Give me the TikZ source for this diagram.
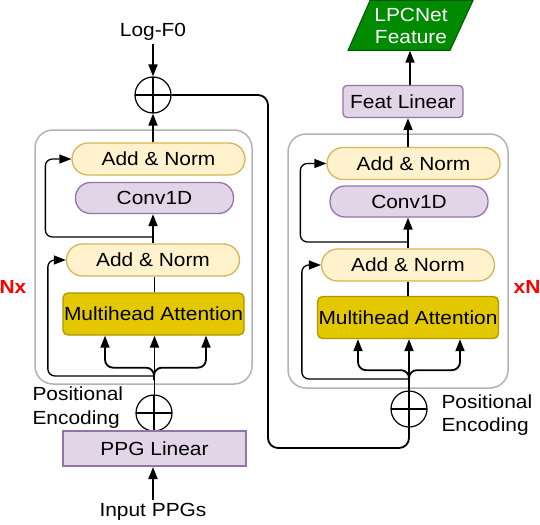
\documentclass[tikz,border=0pt]{standalone}
\usepackage{fontspec}
\setmainfont{Liberation Sans}[FakeStretch=1.1]
\usetikzlibrary{arrows.meta}

\definecolor{normfill}{HTML}{FFF2CC}
\definecolor{normline}{HTML}{D6B656}
\definecolor{convfill}{HTML}{E1D5E7}
\definecolor{convline}{HTML}{9673A6}
\definecolor{attnfill}{HTML}{E3C800}
\definecolor{attnline}{HTML}{B09500}
\definecolor{featfill}{HTML}{008A00}
\definecolor{featline}{HTML}{005700}
\definecolor{boxgray}{HTML}{B3B3B3}

\begin{document}
\begin{tikzpicture}[x=1pt,y=-1pt,font=\fontsize{19}{23}\selectfont]
        \tikzstyle{addnorm} = [draw=normline,fill=normfill,line width=1.3pt,rounded corners=16pt,minimum width=173pt,minimum height=32pt,inner sep=0pt]
        \tikzstyle{conv} = [draw=convline,fill=convfill,line width=1.3pt,rounded corners=15pt,minimum width=158pt,minimum height=31pt,inner sep=0pt]
        \tikzstyle{attn} = [draw=attnline,fill=attnfill,line width=1.3pt,rounded corners=5pt,minimum width=181pt,minimum height=42pt,inner sep=0pt]
        \tikzstyle{sumnode} = [draw,circle,line width=1.2pt,minimum size=36pt,inner sep=0pt,
            path picture={\draw[line width=1.2pt] (path picture bounding box.west) -- (path picture bounding box.east);
                          \draw[line width=2pt] (path picture bounding box.north) -- (path picture bounding box.south);}]
        \tikzstyle{group} = [draw=boxgray,line width=1.5pt,rounded corners=18pt]
        \tikzstyle{arr} = [line width=1.8pt,-{Triangle[length=12pt,width=9pt]}]
        \tikzstyle{skiparr} = [line width=1.3pt,rounded corners=7pt,-{Triangle[length=12pt,width=9pt]}]
        \tikzstyle{repeat} = [text=red,font=\fontsize{19}{23}\selectfont\bfseries]

        \useasboundingbox (0,0) rectangle (540,524);

        % the two stacks
        \draw[group] (35,130) rectangle (252,384);
        \draw[group] (288,134) rectangle (508,388);

        % left stack
        \node (logf) at (153,32) {Log-F0};
        \node[sumnode] (sumL) at (153,95) {};
        \node[addnorm] (normLa) at (158.5,159) {Add \& Norm};
        \node[conv] (convL) at (154.5,198) {Conv1D};
        \node[addnorm] (normLb) at (153,260) {Add \& Norm};
        \node[attn] (attnL) at (153.5,314) {Multihead Attention};
        \node[sumnode] (posL) at (154,413) {};
        \node[draw=convline,fill=convfill,line width=2pt,minimum width=183pt,minimum height=35pt] (ppg) at (154.5,448.5) {PPG Linear};
        \node (inppg) at (153,512) {Input PPGs};
        \node[align=left,anchor=west] (posLtxt) at (29,408) {Positional\\[1pt]Encoding};
        \node[repeat] (nx) at (13,287) {Nx};

        % right stack
        \filldraw[draw=featline,fill=featfill,line width=1pt] (348,50.5) -- (370,0.5) -- (473,0.5) -- (450,50.5) -- cycle;
        \node[text=white,align=center,minimum height=50pt,inner sep=0pt,
              font=\fontsize{19}{22}\selectfont] (lpc) at (411,25.5) {LPCNet\\Feature};
        \node[conv,rounded corners=4pt,minimum width=120pt,minimum height=32pt] (featlin) at (403,101.5) {Feat Linear};
        \node[addnorm] (normRa) at (413.5,163.5) {Add \& Norm};
        \node[conv] (convR) at (409,201.5) {Conv1D};
        \node[addnorm] (normRb) at (408,265) {Add \& Norm};
        \node[attn] (attnR) at (408,317.5) {Multihead Attention};
        \node[sumnode] (posR) at (409,409) {};
        \node[align=left,anchor=west] (posRtxt) at (438,415) {Positional\\Encoding};
        \node[repeat] (xn) at (527,287) {xN};

        % left connections
        \draw[arr] (logf) -- (sumL.north);
        \draw[arr] (normLa.north -| sumL) -- (sumL.south);
        \draw[arr] (normLb.north -| sumL) -- (convL.south -| sumL);
        \coordinate (jLa) at (153,237);
        \draw[skiparr] (jLa) -| ([xshift=-26pt]normLa.west) -- (normLa.west);
        \draw[line width=1.8pt] (attnL.north -| ppg) -- (normLb.south -| ppg);
        \draw[arr] (ppg.north) -- (attnL.south -| ppg);
        \coordinate (jLb) at (154,380);
        \coordinate (jLc) at (154,376);
        \draw[arr,rounded corners=8pt] (jLb) |- ([yshift=-32pt]attnL.south -| 105,0) -- (attnL.south -| 105,0);
        \draw[arr,rounded corners=8pt] (jLb) |- ([yshift=-32pt]attnL.south -| 206,0) -- (attnL.south -| 206,0);
        \draw[skiparr] (jLc) -| ([xshift=-18pt]normLb.west) -- (normLb.west);
        \draw[arr] (inppg) -- (ppg.south -| inppg);

        % right connections
        \draw[arr] (featlin.north -| 410,0) -- (lpc.south -| 410,0);
        \draw[arr] (normRa.north -| 408,0) -- (featlin.south -| 408,0);
        \draw[arr] (normRb.north -| 408,0) -- (convR.south -| 408,0);
        \coordinate (jRa) at (408,242);
        \draw[skiparr] (jRa) -| ([xshift=-26pt]normRa.west) -- (normRa.west);
        \draw[line width=1.8pt] (attnR.north -| 408,0) -- (normRb.south -| 408,0);
        \coordinate (turn) at (268,448);
        \draw[arr,rounded corners=10pt] (sumL.east) -| (turn) -| (attnR.south -| posR);
        \coordinate (jRb) at (409,383);
        \coordinate (jRc) at (409,379);
        \draw[arr,rounded corners=8pt] (jRb) |- ([yshift=-31pt]attnR.south -| 358,0) -- (attnR.south -| 358,0);
        \draw[arr,rounded corners=8pt] (jRb) |- ([yshift=-31pt]attnR.south -| 460,0) -- (attnR.south -| 460,0);
        \draw[skiparr] (jRc) -| ([xshift=-19pt]normRb.west) -- (normRb.west);

\end{tikzpicture}
\end{document}
